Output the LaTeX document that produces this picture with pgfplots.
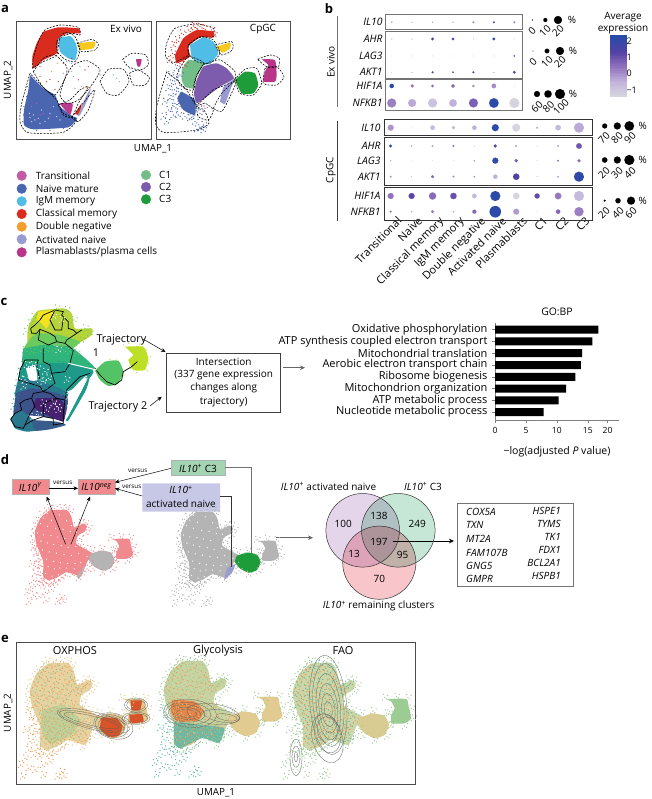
\documentclass[border=0pt]{standalone}
\usepackage{fontspec}
\setmainfont{Open Sans}
\usepackage{pgfplots}
\usepackage{pgfplotstable}
\pgfplotsset{compat=1.18}
\usetikzlibrary{arrows.meta}
\newcommand{\fs}[1]{\fontsize{#1}{#1}\selectfont}
\newcommand{\ilp}{\textit{IL10}\textsuperscript{+}}

\definecolor{cTrans}{HTML}{C35AA5}
\definecolor{cNaive}{HTML}{4A66B0}
\definecolor{cIgM}{HTML}{50BDE6}
\definecolor{cClass}{HTML}{D92B1E}
\definecolor{cDN}{HTML}{F59D2E}
\definecolor{cYel}{HTML}{F7C81E}
\definecolor{cAct}{HTML}{9A9AD2}
\definecolor{cPlas}{HTML}{B8358A}
\definecolor{cCa}{HTML}{73BD88}
\definecolor{cCb}{HTML}{7D5CAE}
\definecolor{cCc}{HTML}{1F9C3A}
\definecolor{cTan}{HTML}{E2CB90}
\definecolor{cSage}{HTML}{C3CF98}
\definecolor{cOra}{HTML}{EE9850}
\definecolor{cRed}{HTML}{D8532A}
\definecolor{cTeal}{HTML}{5FB2A8}
\definecolor{cLeaf}{HTML}{9CCB93}
\definecolor{cPink}{HTML}{F08A8E}
\definecolor{cGray}{HTML}{B4B4B4}

\pgfplotsset{
  pz/.style n args={4}{x filter/.expression={x*#1+#2}, y filter/.expression={y*#3+#4}},
  za/.style={pz={0.3333}{0}{0.3333}{0}},
  zc/.style={pz={0.3333}{0}{0.3333}{300}},
  zd/.style={pz={0.3333}{0}{0.3333}{455}},
  blob/.style={fill=#1, draw=none, smooth, tension=0.3},
  dash/.style={black, line width=0.55pt, dash pattern=on 2pt off 1.3pt, smooth, tension=0.4},
  speck/.style={only marks, mark=*, mark size=0.5pt, color=#1, mark options={line width=0.1pt}},
  tree/.style={black, line width=0.7pt},
  dots/.style={scatter, only marks, mark=*, point meta=explicit,
    scatter/use mapped color={fill=mapped color, draw=mapped color, line width=0.05pt},
    visualization depends on={\thisrow{r} \as \rr},
    scatter/@pre marker code/.append style={/tikz/mark size=\rr}},
  blackdots/.style={only marks, mark=*, scatter, point meta=x,
    scatter/use mapped color={fill=black, draw=black, line width=0.05pt},
    visualization depends on={\thisrow{r} \as \rr},
    scatter/@pre marker code/.append style={/tikz/mark size=\rr}},
  colormap={purp}{rgb255=(216,216,222) rgb255=(195,180,220) rgb255=(145,115,190) rgb255=(85,65,165) rgb255=(40,75,170)},
}

% dot plot, panel b: column, row position, radius, scaled expression
\pgfplotstableread{
c y r v
0 22.3 .8 -.3
1 22.3 .6 -.5
2 22.3 .7 -.3
3 22.3 .6 -.2
4 22.3 1 .2
5 22.3 1 1.5
6 22.3 1 .3
0 39 .6 -.8
1 39 .6 -.6
2 39 1.4 1.6
3 39 1.4 1.8
4 39 .5 -.9
5 39 1.4 1.8
6 39 .4 -1.3
0 56 .4 -1
1 56 .4 -1
2 56 .4 -1
3 56 .4 -1
4 56 .4 -1
5 56 .4 -1
6 56 .8 1
0 72.3 .4 -.5
1 72.3 .5 0
2 72.3 1 1.5
3 72.3 .8 1.2
4 72.3 1 1.5
5 72.3 .5 .2
6 72.3 1.4 1.8
0 86 2.2 2.2
1 86 1.6 .5
2 86 1.4 .5
3 86 1.8 .6
4 86 1.2 .1
5 86 2.3 .1
6 86 .4 -1.3
0 103 4.5 .3
1 103 4 -.3
2 103 4.5 -.8
3 103 3.8 -.4
4 103 4.5 .8
5 103 4.8 2.2
6 103 5 -1.3
}\tabExVivo

\pgfplotstableread{
c y r v
0 127.7 3 0
1 127.7 .3 -1
2 127.7 2.3 -.6
3 127.7 1.7 -.5
4 127.7 2.2 -.4
5 127.7 3.5 2.2
6 127.7 4 -1.3
7 127.7 1 -.2
8 127.7 2.8 -.6
9 127.7 5 -.3
0 146 1.5 2.2
1 146 .7 0
2 146 .9 0
3 146 1 .5
4 146 .4 -.8
5 146 1.6 1.5
6 146 1 -.1
7 146 .5 -.8
8 146 .9 0
9 146 2.8 1
0 160.7 .7 -.3
1 160.7 .3 -1
2 160.7 .3 -1
3 160.7 .3 -1
4 160.7 .7 0
5 160.7 3 2.1
6 160.7 1.7 .9
7 160.7 .4 -.8
8 160.7 .9 .5
9 160.7 1.6 .6
0 176.7 1 -.1
1 176.7 .5 -.6
2 176.7 1.5 .7
3 176.7 1 0
4 176.7 .9 -.1
5 176.7 2.2 -.4
6 176.7 3.2 1.4
7 176.7 .5 -.5
8 176.7 .9 -.1
9 176.7 5 2.2
0 196 3 .5
1 196 3 1.3
2 196 3.6 .6
3 196 3.2 1.1
4 196 2.3 -.6
5 196 5 2.2
6 196 3.3 -1.3
7 196 2.6 1.2
8 196 3.3 .4
9 196 5 -.6
0 211.7 1 .5
1 211.7 .6 0
2 211.7 1.5 .4
3 211.7 .7 0
4 211.7 2 .7
5 211.7 5.7 2.2
6 211.7 3 -.1
7 211.7 .3 -.8
8 211.7 2.2 .7
9 211.7 4.6 .3
}\tabCpGC

% size legends of panel b
\pgfplotstableread{
x y r
532.3 20 .5
545.3 20 2
558 20 4
533 51 .4
547 51 2.3
560 51 4
537 94 3
548 94 3.7
560 94 5
604.7 126 2.5
617.3 126 3.5
629.3 126 4.8
604.7 160 2.7
617.3 160 3.5
629.3 160 5
604.7 200.7 1
618 200.7 2.6
631 200.7 4
}\tabSizes

% shared UMAP outline (panels d and e), drawn at the scale of the OXPHOS plot
\pgfplotstableread{
x y
145 100
205 100
222 125
232 165
265 150
278 160
270 180
245 195
240 225
290 255
300 262
280 290
270 315
255 345
205 330
170 350
140 360
120 345
120 290
95 225
90 180
110 130
145 100
}\umapBody
\pgfplotstableread{
x y
292 262
330 250
365 258
378 285
365 315
335 325
305 310
285 285
292 262
}\umapCthree
\pgfplotstableread{
x y
370 207
430 207
437 230
445 265
425 280
385 280
385 255
395 235
385 215
370 207
}\umapPlasma

\pgfplotstableread{
x y
150 105
172 102
195 108
210 120
130 120
160 125
185 130
215 150
118 140
142 150
170 155
198 160
228 172
250 170
262 160
105 165
128 175
155 180
180 185
205 190
235 190
96 195
115 205
138 205
162 212
190 215
218 222
105 225
128 235
150 240
175 245
200 250
225 245
250 245
270 258
122 262
140 270
165 275
190 282
215 285
240 280
262 285
125 290
150 300
172 308
198 305
225 310
250 305
262 325
130 320
145 335
165 335
188 325
215 322
240 330
}\spkA
\pgfplotstableread{
x y
135 112
178 118
122 130
150 138
205 140
222 158
110 150
135 160
165 168
192 172
218 180
240 182
100 185
122 192
148 195
172 200
198 205
112 215
135 222
158 228
185 232
210 238
238 235
118 248
142 255
168 260
195 265
222 268
248 262
278 272
132 282
158 290
182 295
208 298
235 298
255 295
138 310
160 318
180 315
205 315
232 318
128 335
152 345
175 340
}\spkB
\pgfplotstableread{
x y
62 405
75 385
68 440
85 360
90 335
100 375
108 305
102 280
95 262
85 240
120 380
128 405
130 435
172 440
185 425
192 438
112 355
92 310
78 300
125 365
148 372
165 370
188 350
85 415
105 420
150 395
}\spkC
\pgfplotstableread{
x y
140 92
160 95
185 92
205 92
218 105
130 105
112 118
100 140
90 160
84 185
82 210
88 232
95 255
105 280
112 305
110 330
115 355
130 368
150 368
175 358
200 340
225 338
248 352
262 335
278 318
288 295
238 160
255 148
272 148
285 165
275 185
252 205
248 225
270 240
295 248
330 243
370 250
385 285
372 320
335 332
300 318
365 203
400 200
435 203
445 235
452 265
425 288
382 288
378 250
392 225
}\spkE
% panel a, CpGC
\pgfplotstableread{
x y
510 225
525 235
515 250
505 265
530 262
520 280
510 295
495 305
525 310
540 320
505 330
490 350
520 345
535 345
555 350
570 355
585 365
600 385
610 375
610 390
590 388
500 365
540 225
530 205
522 320
575 352
600 340
595 325
545 290
560 310
535 275
}\spkNaive
\pgfplotstableread{
x y
520 135
530 120
545 100
565 90
585 82
610 85
635 90
642 105
518 160
510 180
540 190
555 195
580 78
600 80
}\spkRed
% panel c
\pgfplotstableread{
x y
75 150
95 155
115 150
140 150
165 145
190 150
210 155
230 160
78 95
90 70
100 50
170 25
200 30
222 60
255 85
270 100
245 122
}\spkCa
\pgfplotstableread{
x y
70 195
95 195
120 200
150 200
180 195
205 205
235 220
265 225
60 215
52 250
75 255
105 255
135 262
165 265
190 280
48 290
40 320
}\spkCb
\pgfplotstableread{
x y
130 310
160 310
170 320
115 345
100 350
140 330
175 330
80 195
120 240
130 245
145 235
75 240
135 215
200 240
175 150
160 50
185 60
70 260
58 235
98 195
112 205
205 290
210 310
}\spkCw

% unit circle, turned into the density contours of panel e
\pgfplotstableread{
u v
1 0
.924 .383
.707 .707
.383 .924
0 1
-.383 .924
-.707 .707
-.924 .383
-1 0
-.924 -.383
-.707 -.707
-.383 -.924
0 -1
.383 -.924
.707 -.707
.924 -.383
1 0
}\unitc
\newcommand{\ring}[5]{\addplot[gray!75!black, line width=0.3pt, smooth] table[
  x expr={(#1+#3*\thisrow{u}*cos(#5)-#4*\thisrow{v}*sin(#5))/3},
  y expr={(#2+#3*\thisrow{u}*sin(#5)+#4*\thisrow{v}*cos(#5))/3+630}]{\unitc};}
% the same estimated dots again, with small offsets, for the density of the clouds
\newcommand{\spks}[6]{%
  \addplot[speck=#1, pz={#3}{#4}{#5}{#6}] table {#2};
  \addplot[speck=#1, pz={#3}{#4+1.9}{#5}{#6+1.3}] table {#2};
  \addplot[speck=#1, pz={#3}{#4-2.3}{#5}{#6+2.4}] table {#2};
  \addplot[speck=#1, pz={#3}{#4+3.1}{#5}{#6-2.2}] table {#2};
  \addplot[speck=#1, pz={#3}{#4-1.2}{#5}{#6-3.4}] table {#2};
}

\begin{document}
\begin{tikzpicture}
\useasboundingbox (0,0) rectangle (651pt,799pt);
\begin{axis}[at={(0,0)}, anchor=south west, width=651pt, height=799pt, scale only axis,
  xmin=0, xmax=651, ymin=0, ymax=799, y dir=reverse, hide axis, clip=false,
  every node/.append style={font=\fs{10.6}, inner sep=0pt}]

% ---------- panel a
\addplot[blob=cClass, za] coordinates {(130,95)(175,82)(235,85)(240,100)(205,100)(175,115)(170,160)(130,180)(100,205)(97,170)(110,130)(130,95)};
\addplot[blob=cIgM, za] coordinates {(175,115)(210,108)(225,125)(232,150)(225,180)(205,175)(180,155)(175,115)};
\addplot[blob=cYel, za] coordinates {(235,130)(285,125)(280,145)(240,150)(235,130)};
\addplot[blob=cNaive, za] coordinates {(90,225)(130,265)(165,285)(180,320)(220,350)(232,355)(205,382)(100,388)(72,375)(72,330)(85,270)(90,225)};
\addplot[blob=cPlas!80!cTrans, za] coordinates {(178,310)(218,310)(210,345)(178,310)};
\addplot[blob=cClass, za] coordinates {(225,340)(245,310)(240,335)(232,345)(225,340)};
\addplot[blob=cAct, za] coordinates {(233,348)(258,290)(272,265)(265,295)(240,345)(233,348)};
\addplot[blob=cPlas, za] coordinates {(408,178)(425,178)(420,200)(412,198)(408,178)};
\addplot[speck=cClass, za] coordinates {(140,245)(150,238)(165,268)(175,245)(262,265)(215,175)(190,190)(120,230)(255,210)(265,200)(120,200)};
\addplot[speck=cAct, za] coordinates {(235,240)(220,230)(245,260)(300,225)(390,205)(240,200)(215,215)(225,265)(190,220)};
\addplot[speck=cCa, za] coordinates {(340,225)(358,245)(350,235)};
\addplot[speck=cDN, za] coordinates {(172,190)(260,262)(155,215)(205,210)};
\addplot[speck=cTrans, za] coordinates {(120,345)(130,340)(110,310)(95,320)(235,238)(150,350)};
\addplot[speck=white!75!cNaive, za] coordinates {(100,345)(115,355)(135,365)(150,340)(170,350)(88,340)(95,365)(125,330)(160,320)(105,360)(145,355)(180,360)(120,370)(90,352)};
\addplot[speck=cNaive, za] coordinates {(70,345)(68,365)(72,320)(80,290)(82,260)(90,240)(110,392)(150,392)(190,385)};
\addplot[speck=cIgM, za] coordinates {(185,110)(200,100)(172,135)(228,130)(235,155)(200,185)(215,190)};
% CpGC
\addplot[blob=cClass, za] coordinates {(525,165)(550,115)(590,90)(640,95)(640,112)(600,112)(565,140)(570,170)(530,190)(525,165)};
\spks{cClass}{\spkRed}{0.3333}{0}{0.3333}{0}
\addplot[blob=cIgM, za] coordinates {(570,135)(610,112)(640,125)(655,160)(630,190)(600,195)(575,170)(570,135)};
\addplot[blob=cYel, za] coordinates {(650,140)(690,128)(690,145)(670,158)(655,150)(650,140)};
\addplot[blob=cCa, za] coordinates {(545,210)(565,180)(610,190)(590,230)(580,265)(555,260)(545,240)(545,210)};
\addplot[blob=cAct, za] coordinates {(660,305)(670,262)(702,238)(690,272)(675,312)(660,305)};
\addplot[blob=cCb, za] coordinates {(590,240)(610,200)(650,190)(680,205)(702,235)(660,260)(620,290)(590,310)(582,280)(590,240)};
\addplot[blob=cNaive, za] coordinates {(545,275)(585,300)(585,345)(550,330)(532,295)(545,275)};
\spks{cNaive}{\spkNaive}{0.3333}{0}{0.3333}{0}
\addplot[speck=cTrans, za] coordinates {(605,315)(615,325)(610,335)(622,322)(600,308)(612,318)};
\addplot[blob=cCc, za] coordinates {(705,240)(735,215)(765,220)(775,255)(760,280)(725,280)(705,240)};
\addplot[blob=cPlas, za] coordinates {(785,178)(825,180)(830,225)(825,245)(790,245)(795,215)(805,195)(785,178)};
\addplot[dash, za] coordinates {(97,205)(100,175)(115,125)(135,90)(180,75)(235,82)(240,105)(215,100)(180,115)(170,165)(130,185)(97,205)};
\addplot[dash, za] coordinates {(170,125)(195,97)(225,110)(240,150)(225,185)(195,178)(172,155)(170,125)};
\addplot[dash, za] coordinates {(232,130)(275,118)(295,132)(285,150)(245,155)(232,130)};
\addplot[dash, za] coordinates {(100,215)(130,175)(165,165)(200,200)(195,235)(165,285)(130,262)(100,215)};
\addplot[dash, za] coordinates {(195,235)(220,195)(260,182)(300,210)(270,262)(235,300)(200,310)(180,285)(195,235)};
\addplot[dash, za] coordinates {(90,220)(65,310)(60,365)(85,398)(190,397)(230,360)(190,340)(170,300)(130,262)(90,220)};
\addplot[dash, za] coordinates {(175,315)(210,300)(240,270)(265,260)(235,310)(215,352)(190,345)(175,315)};
\addplot[dash, za] coordinates {(215,352)(265,290)(285,270)(265,330)(235,365)(215,352)};
\addplot[dash, za] coordinates {(300,245)(325,208)(370,208)(387,245)(355,285)(320,280)(300,245)};
\addplot[dash, za] coordinates {(388,220)(415,210)(448,232)(435,255)(400,255)(388,220)};
\addplot[dash, za] coordinates {(368,178)(395,160)(437,165)(445,195)(420,210)(385,200)(368,178)};
\addplot[dash, za] coordinates {(518,190)(497,170)(500,130)(525,85)(590,72)(640,85)(643,110)(600,112)(565,135)(565,165)(518,190)};
\addplot[dash, za] coordinates {(565,135)(600,110)(640,120)(660,160)(630,190)(590,185)(565,160)(565,135)};
\addplot[dash, za] coordinates {(645,135)(695,125)(697,150)(665,165)(645,135)};
\addplot[dash, za] coordinates {(540,205)(565,170)(610,188)(590,225)(580,270)(548,262)(530,230)(540,205)};
\addplot[dash, za] coordinates {(585,240)(610,195)(660,180)(705,215)(700,245)(640,270)(590,315)(578,280)(585,240)};
\addplot[dash, za] coordinates {(703,240)(735,208)(770,205)(785,250)(760,285)(720,280)(703,240)};
\addplot[dash, za] coordinates {(773,178)(810,165)(838,175)(835,200)(800,200)(773,178)};
\addplot[dash, za] coordinates {(795,205)(830,200)(852,230)(830,255)(790,250)(795,205)};
\addplot[dash, za] coordinates {(500,215)(470,320)(468,375)(495,398)(590,390)(627,370)(612,330)(590,320)(560,270)(530,240)(500,215)};
\addplot[dash, za] coordinates {(640,325)(665,280)(710,240)(690,290)(665,335)(640,325)};
\addplot[dash, za] coordinates {(590,320)(615,310)(640,330)(625,360)(595,350)(590,320)};
\draw[black!70, line width=0.9pt] (16.7,21.7) rectangle (151,139);
\draw[black!70, line width=0.9pt] (156.3,21.7) rectangle (290,139);
\node at (126,29) {Ex vivo};
\node at (263,29) {CpGC};
\node[rotate=90, font=\fs{9.8}] at (8,80) {UMAP\_2};
\node[font=\fs{9.8}] at (153,149) {UMAP\_1};
\node[font=\fs{13}\bfseries] at (5,9) {a};
\node[font=\fs{13}\bfseries] at (329,9) {b};
\node[font=\fs{13}\bfseries] at (4,302) {c};
\node[font=\fs{13}\bfseries] at (5,460) {d};
\node[font=\fs{13}\bfseries] at (5,639) {e};
% legend
\addplot[only marks, mark=*, mark size=4.8pt, cTrans] coordinates {(21.7,175.7)};
\addplot[only marks, mark=*, mark size=4.8pt, cNaive] coordinates {(21.7,188.7)};
\addplot[only marks, mark=*, mark size=4.8pt, cIgM] coordinates {(21.7,201.3)};
\addplot[only marks, mark=*, mark size=4.8pt, cClass] coordinates {(21.7,214)};
\addplot[only marks, mark=*, mark size=4.8pt, cDN] coordinates {(21.7,226.7)};
\addplot[only marks, mark=*, mark size=4.8pt, cAct] coordinates {(21.7,239.3)};
\addplot[only marks, mark=*, mark size=4.8pt, cPlas] coordinates {(21.7,252.3)};
\addplot[only marks, mark=*, mark size=4.8pt, cCa] coordinates {(146,175)};
\addplot[only marks, mark=*, mark size=4.8pt, cCb] coordinates {(146,187)};
\addplot[only marks, mark=*, mark size=4.8pt, cCc] coordinates {(146,199.3)};
\node[anchor=west] at (32.3,175.7) {Transitional};
\node[anchor=west] at (32.3,188.7) {Naive mature};
\node[anchor=west] at (32.3,201.3) {IgM memory};
\node[anchor=west] at (32.3,214) {Classical memory};
\node[anchor=west] at (32.3,226.7) {Double negative};
\node[anchor=west] at (32.3,239.3) {Activated naive};
\node[anchor=west] at (32.3,252.3) {Plasmablasts/plasma cells};
\node[anchor=west] at (155.7,175) {C1};
\node[anchor=west] at (155.7,187) {C2};
\node[anchor=west] at (155.7,199.3) {C3};

% ---------- panel b, surroundings
\addplot[blackdots] table[x=x, y=y] {\tabSizes};
\foreach \X/\Y/\T in {532/31/0,545/31/10,558/31/20,533/62/0,547/62/10,560/62/20,537/107/60,548.5/107/80,561/107/100,604/138/70,617/138/80,630/138/90,604/173/20,617/173/30,630/173/40,604/213/20,618/213/40,631/213/60}
  {\edef\tmp{\noexpand\node[rotate=45] at (axis cs:\X,\Y) {\T};}\tmp}
\foreach \X/\Y in {572/20,573/51,573/94,642.7/126,642.7/160,642.7/200.7}
  {\edef\tmp{\noexpand\node at (axis cs:\X,\Y) {\noexpand\%};}\tmp}
\node[rotate=90] at (331,62) {Ex vivo};
\node[rotate=90] at (331,170) {CpGC};
\draw[black!55, line width=0.9pt] (337,16) -- (337,107);
\draw[black!75, line width=0.9pt] (337,121) -- (337,221);
\node at (623,17) {Average};
\node at (623,29) {expression};

% ---------- panel c, trajectory map
\definecolor{vA}{HTML}{F4E31E}\definecolor{vB}{HTML}{B5D43A}\definecolor{vC}{HTML}{6CCB5E}
\definecolor{vD}{HTML}{2FB47C}\definecolor{vE}{HTML}{1F9A8A}\definecolor{vF}{HTML}{2A788E}
\definecolor{vG}{HTML}{3B528B}\definecolor{vH}{HTML}{46216F}\definecolor{vI}{HTML}{7AD151}\definecolor{vJ}{HTML}{BDDF26}
\addplot[blob=vB, zc] coordinates {(100,50)(115,32)(190,25)(215,40)(225,85)(275,85)(275,105)(235,128)(150,110)(100,115)(82,125)(85,80)(100,50)};
\addplot[blob=vA, zc] coordinates {(115,35)(165,30)(155,55)(140,85)(125,70)(110,60)(115,35)};
\addplot[blob=vC, zc] coordinates {(80,130)(110,100)(180,105)(240,125)(210,150)(170,135)(120,145)(72,150)(80,130)};
\addplot[blob=vD, zc] coordinates {(70,145)(130,135)(210,140)(250,170)(285,205)(240,225)(200,195)(130,195)(68,195)(70,145)};
\addplot[blob=vE, zc] coordinates {(68,190)(130,190)(200,190)(280,212)(262,240)(200,275)(140,255)(55,245)(68,190)};
\addplot[blob=vF, zc] coordinates {(55,235)(110,240)(180,265)(205,280)(190,305)(100,280)(45,290)(55,235)};
\addplot[blob=vG, zc] coordinates {(48,280)(100,265)(190,285)(205,300)(190,360)(130,350)(70,345)(40,345)(48,280)};
\addplot[blob=vH, zc] coordinates {(108,295)(175,295)(195,320)(190,365)(130,340)(100,320)(108,295)};
\addplot[blob=vF, zc] coordinates {(32,355)(60,330)(100,360)(112,390)(80,395)(45,385)(32,355)};
\addplot[blob=vG!70!vF, zc] coordinates {(95,360)(170,365)(198,375)(150,388)(105,392)(95,360)};
\addplot[blob=white, zc] coordinates {(78,205)(105,195)(112,240)(88,240)(78,205)};
\addplot[blob=white, zc] coordinates {(205,345)(205,285)(252,232)(262,228)(250,262)(205,345)};
\addplot[blob=vE, zc] coordinates {(198,360)(250,262)(263,228)(270,228)(258,270)(205,362)(198,360)};
\spks{vC}{\spkCa}{0.3333}{0}{0.3333}{300}
\spks{vE}{\spkCb}{0.3333}{0}{0.3333}{300}
\spks{white}{\spkCw}{0.3333}{0}{0.3333}{300}
\addplot[blob=vD!50!vI, zc] coordinates {(285,212)(315,185)(355,182)(370,215)(355,250)(325,258)(300,240)(285,212)};
\addplot[blob=vJ, zc] coordinates {(375,140)(430,140)(445,175)(435,210)(400,210)(385,180)(400,165)(375,140)};
\addplot[speck=vJ, zc] coordinates {(370,135)(385,130)(420,132)(440,150)(452,170)(445,190)(442,212)(410,218)(392,205)(330,178)(350,180)(372,225)};
\addplot[tree, zc] coordinates {(95,100)(92,85)(105,75)(120,60)(130,45)(165,30)(190,35)(185,45)(195,55)(205,65)(205,85)(220,90)(230,100)(245,90)};
\addplot[tree, zc] coordinates {(95,100)(110,100)(120,88)(150,100)(165,110)(170,125)(195,130)(200,120)(230,100)};
\addplot[tree, zc] coordinates {(165,30)(150,60)(165,90)(185,90)(190,55)};
\addplot[tree, zc] coordinates {(120,88)(115,120)(145,135)(170,125)};
\addplot[tree, zc] coordinates {(130,145)(130,185)(150,195)(155,220)(195,215)(210,190)(220,150)(195,130)};
\addplot[tree, zc] coordinates {(115,180)(75,180)(60,210)(55,240)(90,250)(120,260)(130,275)(165,250)(155,220)};
\addplot[tree, zc] coordinates {(115,180)(110,195)(120,240)};
\addplot[tree, zc] coordinates {(45,340)(65,330)(60,310)(75,300)(95,295)(100,280)(130,275)(150,280)(170,295)(195,300)(200,270)(240,230)(270,220)};
\addplot[tree, zc] coordinates {(45,340)(32,358)(45,380)(70,385)(75,375)(100,360)(130,350)(160,355)(160,375)(190,370)(190,340)(195,300)};
\addplot[tree, zc] coordinates {(95,295)(105,320)(90,340)(75,375)};
\addplot[tree, zc] coordinates {(130,350)(130,310)(170,295)};
\addplot[tree, zc] coordinates {(285,205)(300,225)(320,245)(345,255)(365,240)(370,215)(395,200)(412,185)};
\addplot[white, line width=1pt, zc] coordinates {(205,190)(290,210)};
\addplot[white, line width=0.7pt, zc] coordinates {(262,235)(200,355)};
\node[anchor=west, font=\fs{10.8}] at (93,340) {Trajectory};
\node[font=\fs{10.8}] at (96,352.7) {1};
\node[anchor=west, font=\fs{10.8}] at (85,406.7) {Trajectory 2};
\addplot[-{Stealth[length=4.5pt, width=4pt]}, line width=0.5pt] coordinates {(143,339)(165.5,352)};
\addplot[-{Stealth[length=4.5pt, width=4pt]}, line width=0.5pt] coordinates {(150,406)(161.7,396.7)};
\draw[black!75, line width=0.7pt] (166.7,353) rectangle (280,412.7);
\node at (223.7,362) {Intersection};
\node at (223.7,375) {(337 gene expression};
\node at (223.7,388) {changes along};
\node at (223.7,401.7) {trajectory)};
\addplot[-{Stealth[length=5pt, width=4.5pt]}, black!60, line width=0.6pt] coordinates {(283,367.7)(305,367.7)};
\node[font=\fs{10.4}] at (557,311.7) {GO:BP};
\node[font=\fs{10.5}] at (557,451.7) {−log(adjusted \textit{P} value)};

% ---------- panel d, UMAPs
\addplot[blob=cPink, pz={0.2767}{10}{0.27}{483}] table {\umapBody};
\spks{cPink}{\spkC}{0.2767}{10}{0.27}{483}
\spks{cPink}{\spkE}{0.2767}{10}{0.27}{483}
\addplot[blob=cPink, pz={0.2767}{10}{0.27}{483}] table {\umapPlasma};
\addplot[blob=cGray, pz={0.2767}{10}{0.27}{483}] table {\umapCthree};
\addplot[blob=cGray, pz={0.2767}{10}{0.27}{483}] coordinates {(240,345)(275,300)(262,330)(250,355)(240,345)};
\addplot[speck=white, pz={0.2767}{10}{0.27}{483}] table {\spkB};
\addplot[blob=cGray, pz={0.2767}{156}{0.27}{485}] table {\umapBody};
\spks{cGray}{\spkC}{0.2767}{156}{0.27}{485}
\spks{cGray}{\spkE}{0.2767}{156}{0.27}{485}
\addplot[blob=cGray, pz={0.2767}{156}{0.27}{485}] table {\umapPlasma};
\addplot[blob=cCc, pz={0.2767}{156}{0.27}{485}] table {\umapCthree};
\addplot[speck=white, pz={0.2767}{156}{0.27}{485}] table {\spkB};
\addplot[blob=cAct, zd] coordinates {(672,375)(682,340)(706,328)(695,355)(672,375)};
\addplot[fill=cPink, draw=black!30, line width=0.6pt] coordinates {(12.3,479)(49,479)(49,494)(12.3,494)(12.3,479)};
\addplot[fill=cPink, draw=black!30, line width=0.6pt] coordinates {(78,479)(115,479)(115,494)(78,494)(78,479)};
\addplot[fill=cCa!65!white, draw=black!30, line width=0.6pt] coordinates {(171,460.3)(225,460.3)(225,475.7)(171,475.7)(171,460.3)};
\addplot[fill=cAct!55!white, draw=none] coordinates {(142.3,483.3)(220,483.3)(220,511.7)(142.3,511.7)(142.3,483.3)};
\node at (30.5,487) {\textit{IL10}\textsuperscript{\textit{Y}}};
\node at (96.5,487) {\textit{IL10}\textsuperscript{\textit{neg}}};
\node at (198,468.5) {\ilp\ C3};
\node at (181,490) {\ilp};
\node at (181,503.5) {activated naive};
\node[font=\fs{6.3}] at (62.7,483) {versus};
\node[font=\fs{6.3}] at (137.7,471) {versus};
\node[font=\fs{6.3}] at (131.7,487) {versus};
\addplot[-{Stealth[length=4.5pt, width=4pt]}, line width=0.5pt, zd] coordinates {(147,100)(234,100)};
\addplot[-{Stealth[length=4.5pt, width=4pt]}, line width=0.5pt, zd] coordinates {(513,40)(345,82)};
\addplot[-{Stealth[length=4.5pt, width=4pt]}, line width=0.5pt, zd] coordinates {(427,123)(345,100)};
\addplot[-{Stealth[length=4.5pt, width=4pt]}, line width=0.5pt, zd] coordinates {(197,268)(140,125)};
\addplot[-{Stealth[length=4.5pt, width=4pt]}, line width=0.5pt, zd] coordinates {(213,268)(270,125)};
\addplot[black!55, line width=0.6pt, zd] coordinates {(675,38)(755,38)(755,295)};
\addplot[black!80, line width=0.6pt, zd] coordinates {(660,125)(695,125)(695,335)};
\addplot[-{Stealth[length=5pt, width=4.5pt]}, black!60, line width=0.6pt] coordinates {(276,537.7)(313,537.7)};

% Venn diagram
\addplot[only marks, mark=*, mark size=36.8pt, mark options={draw opacity=0, fill={rgb,255:red,228;green,213;blue,234}, blend mode=multiply}] coordinates {(362.7,530.3)};
\addplot[only marks, mark=*, mark size=36.8pt, mark options={draw opacity=0, fill={rgb,255:red,198;green,231;blue,213}, blend mode=multiply}] coordinates {(398.3,530.3)};
\addplot[only marks, mark=*, mark size=36.6pt, mark options={draw opacity=0, fill={rgb,255:red,248;green,197;blue,202}, blend mode=multiply}] coordinates {(379.3,562.7)};
\addplot[only marks, mark=*, mark size=36.8pt, mark options={draw=black!80, line width=0.5pt, fill opacity=0}] coordinates {(362.7,530.3)(398.3,530.3)};
\addplot[only marks, mark=*, mark size=36.6pt, mark options={draw=black!80, line width=0.5pt, fill opacity=0}] coordinates {(379.3,562.7)};
\node at (343.3,524.3) {100};
\node at (379,516) {138};
\node at (417.3,524.3) {249};
\node at (354,554) {13};
\node at (379,542.3) {197};
\node at (402.7,555.3) {95};
\node at (379.3,579.3) {70};
\node[anchor=west] at (277.3,486.7) {\ilp\ activated naive};
\node[anchor=west] at (400.7,486.7) {\ilp\ C3};
\node[anchor=west] at (319.3,606) {\ilp\ remaining clusters};
\addplot[-{Stealth[length=5pt, width=4.5pt]}, line width=0.5pt] coordinates {(392.7,541)(454,541)};
\draw[black!55, line width=0.8pt] (457.3,503.3) rectangle (573.3,586.7);
\foreach \Y/\T in {512.3/COX5A,525/TXN,539.3/MT2A,552.7/FAM107B,566/GNG5,579/GMPR}
  {\edef\tmp{\noexpand\node[anchor=west] at (axis cs:462.7,\Y) {\noexpand\textit{\T}};}\tmp}
\foreach \Y/\T in {511/HSPE1,523.7/TYMS,537/TK1,550.3/FDX1,563/BCL2A1,576/HSPB1}
  {\edef\tmp{\noexpand\node[anchor=east] at (axis cs:564.3,\Y) {\noexpand\textit{\T}};}\tmp}

% ---------- panel e, OXPHOS
\addplot[blob=cTan, fill opacity=0.85, pz={.3333}{0}{.3333}{630}] table {\umapBody};
\addplot[blob=cSage, pz={.3333}{0}{.3333}{630}] coordinates {(125,240)(190,225)(240,270)(215,315)(150,340)(125,300)(125,240)};
\addplot[blob=cTan, pz={.3333}{0}{.3333}{630}] table {\umapCthree};
\addplot[blob=cTan, pz={.3333}{0}{.3333}{630}] table {\umapPlasma};
\addplot[speck=white, pz={.3333}{0}{.3333}{630}] table {\spkB};
\spks{cOra}{\spkA}{.3333}{0}{.3333}{630}
\spks{cLeaf}{\spkB}{.3333}{0}{.3333}{630}
\spks{cOra}{\spkC}{.3333}{0}{.3333}{630}
\spks{cTan}{\spkE}{.3333}{0}{.3333}{630}
\addplot[blob=cRed, pz={.3333}{0}{.3333}{630}] coordinates {(305,262)(350,265)(368,290)(355,318)(325,320)(300,295)(305,262)};
\addplot[blob=cRed, pz={.3333}{0}{.3333}{630}] coordinates {(388,255)(425,252)(430,275)(392,280)(388,255)};
\addplot[blob=cRed, pz={.3333}{0}{.3333}{630}] coordinates {(392,212)(425,212)(420,240)(395,240)(392,212)};
\ring{275}{272}{85}{14}{14}\ring{275}{272}{100}{20}{14}\ring{280}{272}{112}{26}{14}
\ring{335}{288}{40}{28}{15}\ring{335}{288}{50}{33}{15}\ring{340}{288}{60}{38}{15}
\ring{408}{265}{35}{14}{0}\ring{408}{265}{42}{18}{0}
\ring{408}{225}{28}{16}{0}\ring{408}{225}{35}{21}{0}

% Glycolysis
\addplot[blob=cTan!50!cLeaf, fill opacity=0.85, pz={.3333}{134}{.3333}{628}] table {\umapBody};
\addplot[blob=cTeal!75!cLeaf, pz={.3333}{134}{.3333}{628}] coordinates {(120,280)(200,290)(270,300)(255,345)(205,330)(140,360)(120,345)(120,280)};
\addplot[blob=cTan, pz={.3333}{134}{.3333}{628}] table {\umapCthree};
\addplot[blob=cTan, pz={.3333}{134}{.3333}{628}] table {\umapPlasma};
\addplot[speck=white, pz={.3333}{134}{.3333}{628}] table {\spkB};
\spks{cLeaf}{\spkA}{.3333}{134}{.3333}{628}
\spks{cOra}{\spkB}{.3333}{134}{.3333}{628}
\spks{cTeal}{\spkC}{.3333}{134}{.3333}{628}
\spks{cLeaf}{\spkE}{.3333}{134}{.3333}{628}
\addplot[blob=cOra!70!cRed, pz={.3333}{134}{.3333}{628}] coordinates {(115,215)(180,220)(210,250)(190,278)(130,280)(110,250)(115,215)};
\ring{560}{250}{30}{12}{5}\ring{560}{250}{42}{18}{5}\ring{560}{250}{55}{26}{5}\ring{565}{250}{68}{33}{5}\ring{570}{250}{80}{42}{5}
\ring{680}{262}{32}{10}{10}\ring{665}{258}{55}{18}{10}\ring{640}{252}{80}{30}{8}

% FAO
\addplot[blob=cSage, fill opacity=0.85, pz={.3333}{263}{.3333}{630}] table {\umapBody};
\addplot[blob=cTan!70!cSage, pz={.3333}{263}{.3333}{630}] table {\umapCthree};
\addplot[blob=cLeaf, pz={.3333}{263}{.3333}{630}] table {\umapPlasma};
\addplot[speck=white, pz={.3333}{263}{.3333}{630}] table {\spkB};
\spks{cTeal}{\spkA}{.3333}{263}{.3333}{630}
\spks{cOra}{\spkB}{.3333}{263}{.3333}{630}
\spks{cLeaf}{\spkC}{.3333}{263}{.3333}{630}
\spks{cLeaf}{\spkE}{.3333}{263}{.3333}{630}
\ring{985}{240}{25}{12}{85}\ring{985}{240}{50}{20}{85}\ring{985}{235}{75}{28}{85}\ring{985}{230}{100}{36}{85}\ring{985}{225}{125}{46}{85}\ring{985}{225}{150}{55}{85}
\ring{982}{300}{40}{30}{80}\ring{982}{310}{60}{38}{75}\ring{982}{325}{75}{45}{75}
\ring{888}{380}{15}{5}{90}\ring{888}{380}{32}{12}{90}\ring{888}{382}{55}{18}{90}
\draw[black!70, line width=0.9pt] (16.7,642.3) rectangle (415.7,784.3);
\node[font=\fs{11}] at (75,651) {OXPHOS};
\node[font=\fs{11}] at (218,651) {Glycolysis};
\node[font=\fs{11}] at (343,651) {FAO};
\node[rotate=90, font=\fs{9.8}] at (8,713) {UMAP\_2};
\node[font=\fs{9.8}] at (216,792.7) {UMAP\_1};
\end{axis}

% ---------- panel b, dot plots
\begin{axis}[at={(385pt,689pt)}, anchor=south west, width=137.7pt, height=95.3pt, scale only axis,
  xmin=-0.328, xmax=6.412, ymin=14.7, ymax=110, y dir=reverse, clip=false,
  colormap name=purp, point meta min=-1.37, point meta max=2.3,
  axis line style={draw=none}, tick style={draw=none}, xtick=\empty,
  ytick={22.3,39,56,72.3,86,103}, yticklabels={IL10,AHR,LAG3,AKT1,HIF1A,NFKB1},
  yticklabel style={font=\fs{10.3}\itshape, xshift=1pt}]
\addplot[dots] table[x=c, y=y, meta=v] {\tabExVivo};
\draw[black!55, line width=0.9pt] (-0.328,14.7) rectangle (6.412,29.7);
\draw[black!55, line width=0.9pt] (-0.328,31) rectangle (6.412,78);
\draw[black!55, line width=0.9pt] (-0.328,79.2) rectangle (6.412,110);
\end{axis}
\begin{axis}[at={(384pt,579pt)}, anchor=south west, width=208.7pt, height=101pt, scale only axis,
  xmin=-0.32, xmax=9.656, ymin=119, ymax=220, y dir=reverse, clip=false,
  colormap name=purp, point meta min=-1.37, point meta max=2.3,
  axis line style={draw=none}, tick style={draw=none},
  xtick={0,...,9}, xticklabels={Transitional,Naive,Classical memory,IgM memory,Double negative,Activated naive,Plasmablasts,C1,C2,C3},
  xticklabel style={font=\fs{11}, rotate=45, anchor=north east, xshift=7pt, yshift=-1pt, inner sep=0pt},
  ytick={127.7,146,160.7,176.7,196,211.7}, yticklabels={IL10,AHR,LAG3,AKT1,HIF1A,NFKB1},
  yticklabel style={font=\fs{10.3}\itshape, xshift=0pt}]
\addplot[dots] table[x=c, y=y, meta=v] {\tabCpGC};
\draw[black!80, line width=0.9pt] (-0.32,119) rectangle (9.656,135.7);
\draw[black!80, line width=0.9pt] (-0.32,137.3) rectangle (9.656,185.7);
\draw[black!80, line width=0.9pt] (-0.32,187.3) rectangle (9.656,220);
\end{axis}
% colour bar
\begin{axis}[at={(611pt,703pt)}, anchor=south west, width=15pt, height=60pt, scale only axis,
  xmin=0, xmax=1, ymin=-1.37, ymax=2.3,
  colormap name=purp, point meta min=-1.37, point meta max=2.3,
  axis line style={draw=none}, xtick=\empty, ytick={-1,0,1,2}, yticklabels={−1,0,1,2}, yticklabel pos=right,
  tick style={draw=none}, yticklabel style={font=\fs{9}, xshift=-3pt}]
\addplot[scatter, only marks, mark=square*, mark size=8pt, point meta=y,
  mark options={yscale=0.16},
  scatter/use mapped color={fill=mapped color, draw=mapped color, line width=0.05pt}] coordinates {
(.5,-1.4)(.5,-1.3)(.5,-1.2)(.5,-1.1)(.5,-1)(.5,-.9)(.5,-.8)(.5,-.7)(.5,-.6)(.5,-.5)
(.5,-.4)(.5,-.3)(.5,-.2)(.5,-.1)(.5,0)(.5,.1)(.5,.2)(.5,.3)(.5,.4)(.5,.5)
(.5,.6)(.5,.7)(.5,.8)(.5,.9)(.5,1)(.5,1.1)(.5,1.2)(.5,1.3)(.5,1.4)(.5,1.5)
(.5,1.6)(.5,1.7)(.5,1.8)(.5,1.9)(.5,2)(.5,2.1)(.5,2.2)(.5,2.3)};
\end{axis}

% ---------- panel c, GO terms
\begin{axis}[at={(495pt,379pt)}, anchor=south west, width=124pt, height=97.3pt, scale only axis,
  xbar, bar width=8pt, bar shift=0pt, xmin=0, xmax=20.05, ymin=0.33, ymax=8.595,
  axis lines*=left, axis line style={black!50, line width=0.6pt},
  tick style={black!50, line width=0.5pt}, tick align=outside, major tick length=3pt,
  xtick={0,5,10,15,18.2}, xticklabels={0,5,10,15,20},
  xticklabel style={font=\fs{8.5}, yshift=-1pt},
  ytick={1,...,8},
  yticklabels={Nucleotide metabolic process,ATP metabolic process,Mitochondrion organization,Ribosome biogenesis,Aerobic electron transport chain,Mitochondrial translation,ATP synthesis coupled electron transport,Oxidative phosphorylation},
  yticklabel style={font=\fs{11}, xshift=-1pt}]
\addplot[fill=black, draw=none] coordinates {(7.85,1)(10.3,2)(11.5,3)(13,4)(13.9,5)(14.1,6)(15.75,7)(16.7,8)};
\end{axis}
\end{tikzpicture}
\end{document}
